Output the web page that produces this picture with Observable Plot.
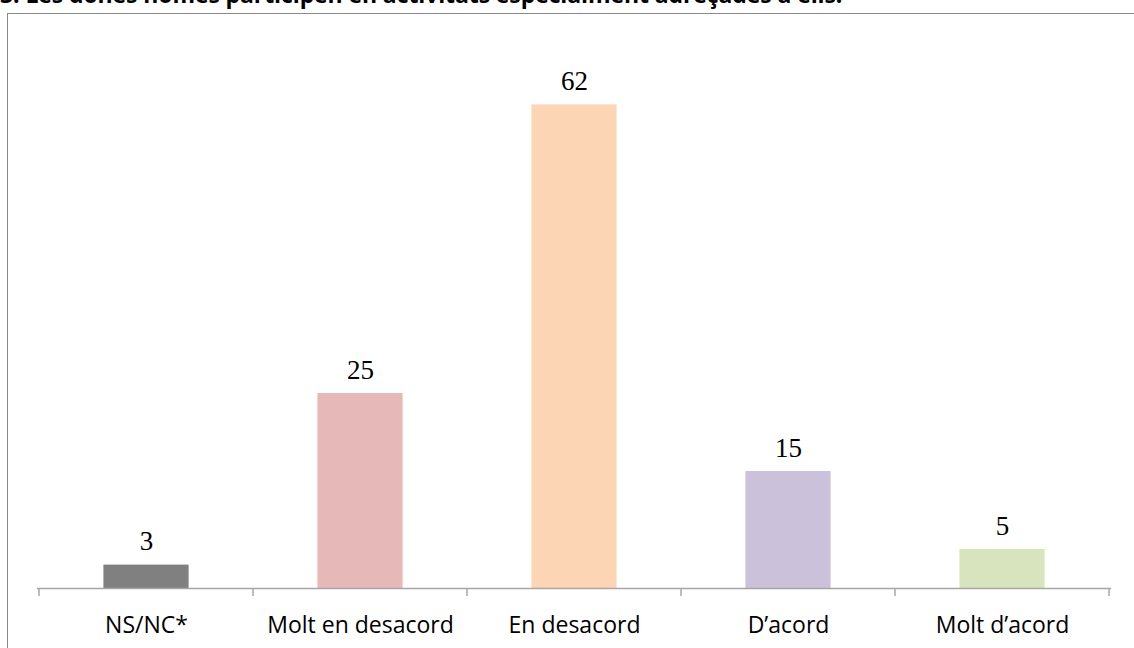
<!DOCTYPE html>
<html>
<head>
<meta charset="utf-8">
<script src="https://cdn.jsdelivr.net/npm/d3@7"></script>
<script src="https://cdn.jsdelivr.net/npm/@observablehq/plot@0.6"></script>
<style>
  html, body { margin: 0; padding: 0; background: #fff; overflow: hidden; }
  #wrap { position: relative; width: 1134px; height: 648px; overflow: hidden; }
  #frame { position: absolute; left: 7px; top: 13px; width: 1140px; height: 700px;
           border: 1.3px solid #8a8a8a; box-sizing: border-box; }
  #title { position: absolute; left: 0px; top: -17px; font-family: "Open Sans", sans-serif;
           font-weight: bold; font-size: 23px; letter-spacing: -0.1px; color: #000; white-space: nowrap; line-height: 1; }
  #chart { position: absolute; left: 0; top: 0; }
</style>
</head>
<body>
<div id="wrap">
  <div id="frame"></div>
  <div id="title"></div>
  <div id="chart"></div>
</div>
<script>
const titleText = "3. Les dones homes participen en activitats especialment adreçades a ells.";
const categories = ["NS/NC*", "Molt en desacord", "En desacord", "D\u2019acord", "Molt d\u2019acord"];
const values = [3, 25, 62, 15, 5];
const colors = ["#808080", "#e6b9b8", "#fcd5b5", "#ccc1da", "#d7e4bd"];

document.getElementById("title").textContent = titleText;

const data = categories.map((c, i) => ({category: c, value: values[i], color: colors[i]}));

// tick marks at band boundaries, drawn from the x band scale
const boundaryTicks = (index, scales, vals, dims) => {
  const x = scales.x, y = scales.y;
  const bw = typeof x.bandwidth === "function" ? x.bandwidth() : x.bandwidth;
  const g = d3.create("svg:g").attr("stroke", "#a6a6a6").attr("stroke-width", 1.5);
  const y0 = y(0);
  const xs = categories.map(c => x(c) - (typeof x.bandwidth === "function" ? 0 : bw / 2));
  xs.push(xs[xs.length - 1] + bw);
  for (const px of xs) {
    g.append("line").attr("x1", px).attr("x2", px).attr("y1", y0).attr("y2", y0 + 8);
  }
  return g.node();
};

const plot = Plot.plot({
  width: 1134,
  height: 648,
  marginLeft: 37,
  marginRight: 23,
  marginTop: 42,
  marginBottom: 60,
  style: {background: "transparent", overflow: "visible"},
  x: {domain: categories, padding: 0, label: null},
  y: {domain: [0, 70], axis: null},
  marks: [
    Plot.barY(data, {
      x: "category", y: "value", fill: "color",
      insetLeft: 64.4, insetRight: 64.4
    }),
    Plot.ruleY([0], {stroke: "#a6a6a6", strokeWidth: 1.5}),
    boundaryTicks,
    Plot.text(data, {
      x: "category", y: "value", text: d => String(d.value),
      dy: -15, lineAnchor: "bottom",
      fontFamily: "Liberation Serif", fontSize: 27, fill: "#000"
    }),
    Plot.axisX({
      tickSize: 0, tickPadding: 28, fontSize: 23,
      fontFamily: "Open Sans", fill: "#000", label: null
    })
  ]
});
plot.style.fontFamily = "Open Sans";
document.getElementById("chart").appendChild(plot);
</script>
</body>
</html>
